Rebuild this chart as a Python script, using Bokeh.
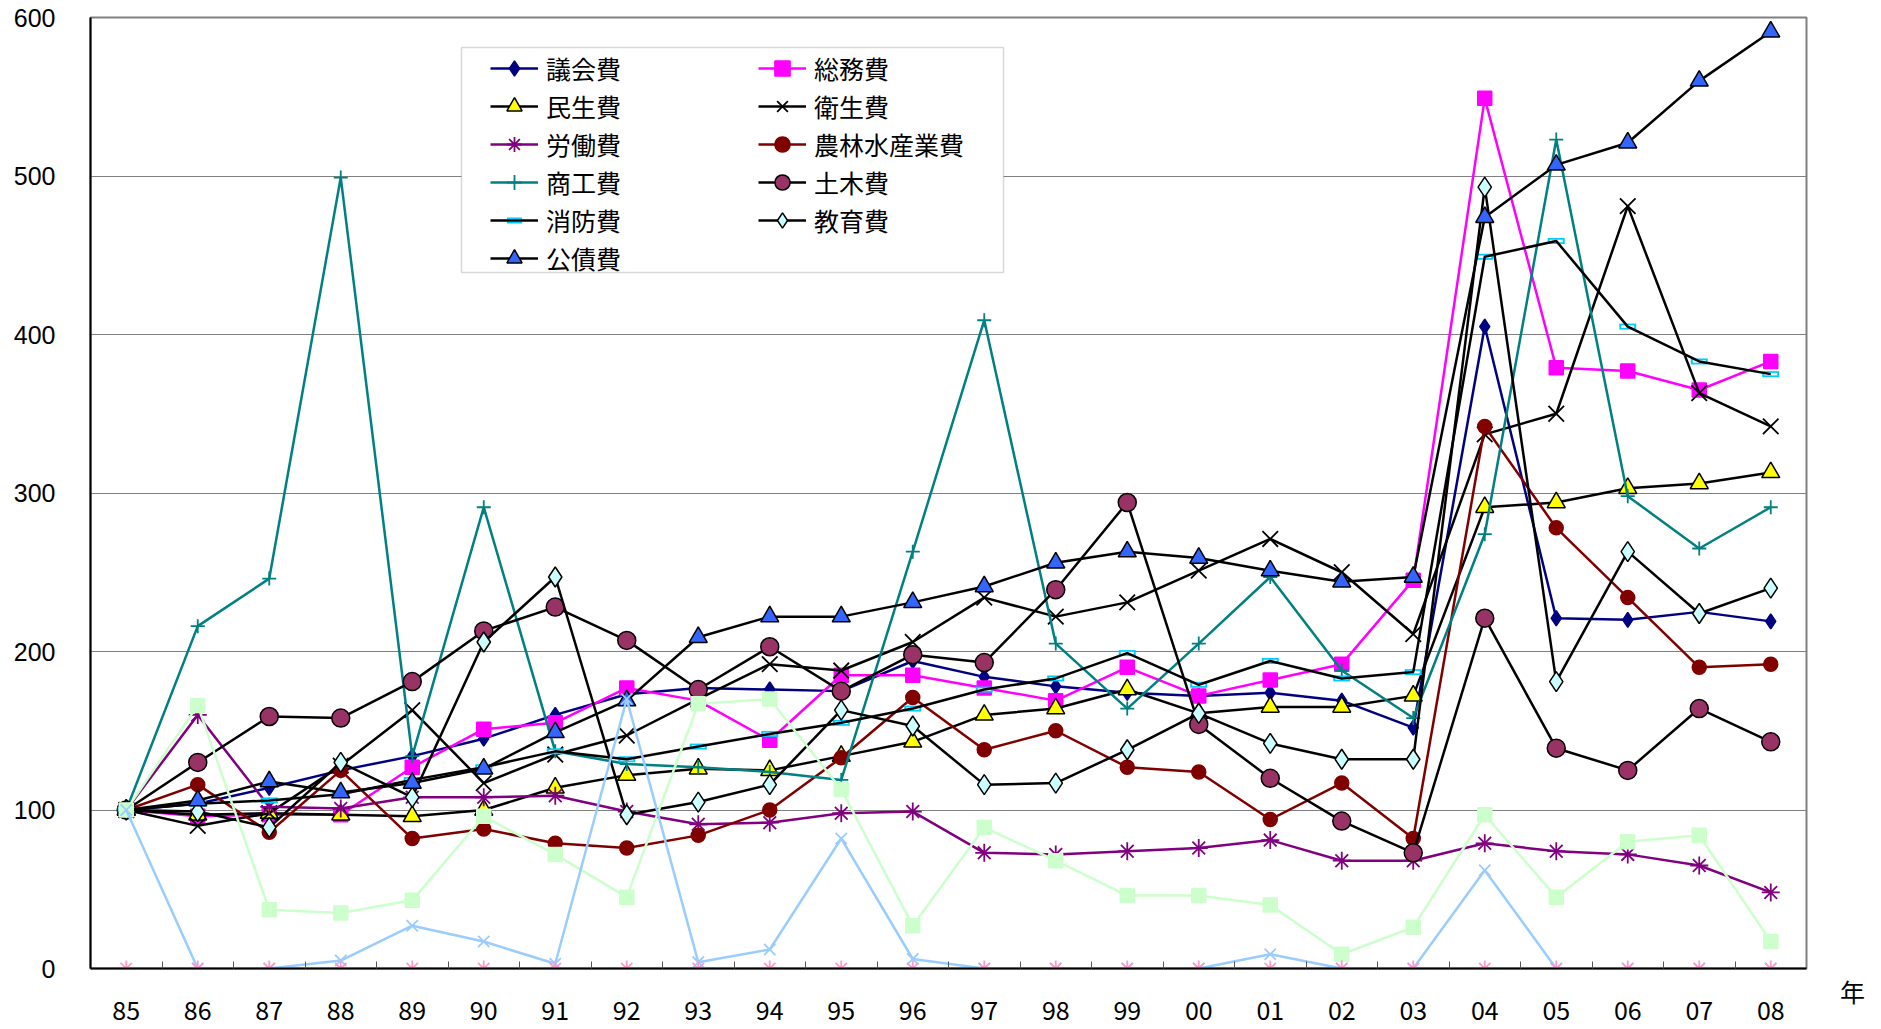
from bokeh.plotting import figure
from bokeh.models import Range1d, FixedTicker, Legend, LegendItem, Label, BoxAnnotation
from bokeh.embed import file_html
from bokeh.resources import INLINE

years = ["85", "86", "87", "88", "89", "90", "91", "92", "93", "94", "95", "96",
         "97", "98", "99", "00", "01", "02", "03", "04", "05", "06", "07", "08"]
y_ticks = [0, 100, 200, 300, 400, 500, 600]

gikai = [100, 104, 114, 125, 134, 145, 160, 173, 177, 176, 175, 194, 184, 178, 174, 172, 174, 169, 152, 405, 221, 220, 225, 219]
soumu = [100, 96, 97, 97, 127, 151, 155, 177, 169, 144, 185, 185, 177, 169, 190, 172, 182, 192, 245, 549, 379, 377, 365, 383]
minsei = [100, 97, 98, 97, 96, 100, 114, 122, 126, 125, 134, 143, 160, 164, 176, 161, 165, 165, 172, 291, 294, 303, 306, 313]
eisei = [100, 90, 98, 128, 163, 117, 135, 147, 170, 192, 188, 206, 234, 222, 231, 251, 271, 250, 211, 337, 350, 481, 363, 342]
roudou = [100, 160, 102, 101, 108, 108, 109, 99, 91, 92, 98, 99, 73, 72, 74, 76, 81, 68, 68, 79, 74, 72, 65, 48]
nourin = [100, 116, 86, 125, 82, 88, 79, 76, 84, 100, 133, 171, 138, 150, 127, 124, 94, 117, 82, 342, 278, 234, 190, 192]
shoukou = [100, 216, 246, 499, 134, 291, 137, 129, 127, 124, 119, 263, 409, 205, 164, 205, 247, 188, 158, 274, 523, 298, 265, 291]
doboku = [100, 130, 159, 158, 181, 213, 228, 207, 176, 203, 175, 198, 193, 239, 294, 154, 120, 93, 73, 221, 139, 125, 164, 143]
shoubou = [100, 104, 106, 110, 119, 127, 137, 132, 140, 148, 155, 164, 176, 183, 199, 179, 194, 183, 187, 449, 459, 405, 383, 375]
kyouiku = [100, 99, 89, 130, 108, 206, 247, 97, 105, 116, 163, 153, 116, 117, 138, 161, 142, 132, 132, 493, 181, 263, 224, 240]
kousai = [100, 106, 118, 111, 117, 126, 149, 169, 209, 222, 222, 231, 241, 256, 263, 259, 251, 244, 247, 474, 507, 521, 560, 591]
other_a = [100, 166, 37, 35, 43, 96, 72, 45, 167, 170, 113, 27, 89, 68, 46, 46, 40, 9, 26, 97, 45, 80, 84, 17]
other_b = [100, 0, 0, 5, 27, 17, 3, 170, 4, 12, 82, 6, 0, 0, 0, 0, 9, 0, 0, 62, 0, 0, 0, 0]
other_c = [0, 0, 0, 0, 0, 0, 0, 0, 0, 0, 0, 0, 0, 0, 0, 0, 0, 0, 0, 0, 0, 0, 0, 0]

xs = list(range(len(years)))

W, H = 1881, 1029
p = figure(width=W, height=H, output_backend="svg", toolbar_location=None,
           x_range=Range1d(-0.5, len(years) - 0.5), y_range=Range1d(0, 600),
           min_border_left=90, min_border_right=75, min_border_top=17, min_border_bottom=61)
p.background_fill_color = "white"
p.border_fill_color = "white"
p.outline_line_color = "#808080"
p.outline_line_width = 2

# axes
p.xaxis.ticker = FixedTicker(ticks=xs, minor_ticks=[i + 0.5 for i in xs[:-1]])
p.xaxis.major_label_overrides = {i: t for i, t in enumerate(years)}
p.xaxis.major_tick_in = 0
p.xaxis.major_tick_out = 0
p.xaxis.minor_tick_in = 7
p.xaxis.minor_tick_out = 0
p.xaxis.minor_tick_line_color = "#555555"
p.xaxis.axis_line_color = "black"
p.xaxis.axis_line_width = 2
p.xaxis.major_label_text_font = "Noto Sans CJK JP"
p.xaxis.major_label_text_font_size = "25px"
p.xaxis.major_label_text_color = "black"
p.xaxis.major_label_standoff = 32
p.xaxis.major_label_text_line_height = 0.6

p.yaxis.ticker = FixedTicker(ticks=y_ticks)
p.yaxis.major_tick_in = 0
p.yaxis.major_tick_out = 0
p.yaxis.minor_tick_line_color = None
p.yaxis.axis_line_color = "black"
p.yaxis.axis_line_width = 2
p.yaxis.major_label_text_font = "Liberation Sans"
p.yaxis.major_label_text_font_size = "25px"
p.yaxis.major_label_text_color = "black"
p.yaxis.major_label_standoff = 35

p.xgrid.visible = False
p.ygrid.ticker = FixedTicker(ticks=y_ticks[1:-1])
p.ygrid.grid_line_color = "#808080"
p.ygrid.grid_line_width = 1

LW = 2.5
items = {}

def series(name, ys, color, marker, size, fill, mline, mlw=1.5, extra=None):
    rs = []
    if extra == "dash":
        r1 = p.scatter(xs, ys, marker="dash", size=17, line_color="#00CCFF", line_width=6)
        r2 = p.scatter(xs, ys, marker="dash", size=13, line_color="white", line_width=2.5)
        rs += [r1, r2]
    rl = p.line(xs, ys, line_color=color, line_width=LW)
    rs.append(rl)
    if marker is not None:
        rm = p.scatter(xs, ys, marker=marker, size=size, fill_color=fill,
                       line_color=mline, line_width=mlw)
        rs.append(rm)
    if name:
        items[name] = rs

series("議会費", gikai, "#000080", "diamond", 15, "#000080", "#000080")
series("総務費", soumu, "#FF00FF", "square", 14, "#FF00FF", "#FF00FF")
series("民生費", minsei, "black", "triangle", 18, "#FFFF00", "black")
series("衛生費", eisei, "black", "x", 22, None, "black", 1.8)
series("労働費", roudou, "#800080", "asterisk", 18, None, "#800080", 1.8)
series("農林水産業費", nourin, "#800000", "circle", 14, "#800000", "#800000")
series("商工費", shoukou, "#008080", "cross", 14, None, "#008080", 1.8)
series("土木費", doboku, "black", "circle", 18, "#993366", "black")
series("消防費", shoubou, "black", None, 0, None, None, extra="dash")
series("教育費", kyouiku, "black", "diamond", 20, "#CCFFFF", "black")
series("公債費", kousai, "black", "triangle", 18, "#3366FF", "black")
series(None, other_a, "#CCFFCC", "square", 14, "#CCFFCC", "#CCFFCC")
series(None, other_b, "#99CCFF", "x", 16, None, "#99CCFF", 1.8)
series(None, other_c, "#FF99CC", "asterisk", 16, None, "#FF99CC", 1.8)

box = BoxAnnotation(left=461, right=1003, top=47, bottom=272,
                    left_units="canvas", right_units="canvas",
                    top_units="canvas", bottom_units="canvas",
                    fill_color="white", fill_alpha=1.0,
                    line_color="#808080", line_width=1.5)
p.add_layout(box)

# column-major order: left column first, then right column
order = ["議会費", "民生費", "労働費", "商工費", "消防費", "公債費",
         "総務費", "衛生費", "農林水産業費", "土木費", "教育費"]
legend = Legend(items=[LegendItem(label=n, renderers=items[n]) for n in order],
                location=(400, 691), ncols=2, orientation="vertical",
                glyph_width=48, glyph_height=38, label_height=38, label_width=212,
                label_standoff=8, spacing=0, padding=0, margin=0,
                border_line_alpha=0, background_fill_alpha=0,
                label_text_font="Noto Sans CJK JP", label_text_font_size="25px",
                label_text_color="black")
p.add_layout(legend)

p.add_layout(Label(x=1852, y=990, x_units="canvas", y_units="canvas", text="年",
                   text_align="center", text_baseline="middle",
                   text_font="Noto Sans CJK JP", text_font_size="25px", text_color="black"),
             "right")

open("out.html", "w").write(file_html(p, INLINE))
